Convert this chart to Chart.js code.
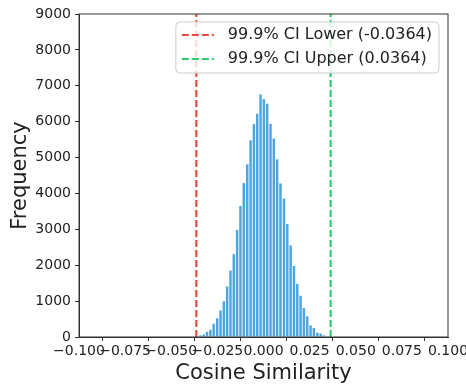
<!DOCTYPE html>
<html>
<head>
<meta charset="utf-8">
<script src="https://cdn.jsdelivr.net/npm/chart.js@4"></script>
<style>
  html, body { margin: 0; padding: 0; background: #fff; }
  #wrap { width: 466px; height: 387px; }
</style>
</head>
<body>
<div id="wrap"><canvas id="hist-chart"></canvas></div>
<script>
// histogram bins (centres) and counts
var binCenters = [-0.0342, -0.0324, -0.0306, -0.0288, -0.0270, -0.0251, -0.0233, -0.0215, -0.0197, -0.0179,
  -0.0161, -0.0143, -0.0125, -0.0107, -0.0088, -0.0070, -0.0052, -0.0034, -0.0016, 0.0002,
  0.0020, 0.0038, 0.0056, 0.0074, 0.0092, 0.0111, 0.0129, 0.0147, 0.0165, 0.0183,
  0.0201, 0.0219, 0.0237, 0.0255, 0.0273, 0.0292, 0.0310, 0.0328];
var binCounts = [46, 75, 145, 202, 370, 520, 740, 995, 1410, 1850,
  2310, 2980, 3650, 4290, 4810, 5480, 5930, 6220, 6760, 6630,
  6500, 5940, 5530, 4950, 4280, 3860, 3150, 2550, 1980, 1480,
  1150, 805, 575, 324, 250, 120, 95, 46];

var ciLabels = ['99.9% CI Lower (-0.0364)', '99.9% CI Upper (0.0364)'];
var ciValues = [-0.0364, 0.0364];
var ciColors = ['#e74c3c', '#2ecc71'];

var xTicks = [-0.1, -0.075, -0.05, -0.025, 0, 0.025, 0.05, 0.075, 0.1];
var yMax = 9000;

var FONT = "'DejaVu Sans', sans-serif";
var ink = '#222';

function fmtX(v) {
  if (Math.abs(v) < 1e-9) return '0.000';
  return (v < 0 ? '\u2212' : '') + Math.abs(v).toFixed(3);
}

var histData = binCenters.map(function (c, i) {
  return {x: c, y: binCounts[i]};
});

var datasets = [{
  type: 'bar',
  label: 'hist',
  data: histData,
  backgroundColor: 'rgba(52,152,219,0.88)',
  borderWidth: 0,
  barPercentage: 0.74,
  categoryPercentage: 1.0,
  order: 2
}];
ciValues.forEach(function (v, i) {
  datasets.push({
    type: 'line',
    label: ciLabels[i],
    data: [{x: v, y: 0}, {x: v, y: yMax}],
    borderColor: ciColors[i],
    borderWidth: 2.2,
    borderDash: [7, 3],
    borderCapStyle: 'butt',
    pointRadius: 0,
    fill: false,
    order: 1
  });
});

// full box around the plot + legend drawn inside the axes (upper right)
var framePlugin = {
  id: 'frame',
  afterDraw: function (chart) {
    var ctx = chart.ctx, a = chart.chartArea;
    ctx.save();
    ctx.strokeStyle = '#333';
    ctx.lineWidth = 1;
    ctx.strokeRect(a.left, a.top, a.right - a.left, a.bottom - a.top);

    ctx.font = '16px ' + FONT;
    var tw = 0;
    ciLabels.forEach(function (t) { tw = Math.max(tw, ctx.measureText(t).width); });
    var boxW = 6 + 32 + 14 + tw + 7;
    var boxH = 51;
    var bx = a.right - 9 - boxW, by = a.top + 8;
    ctx.beginPath();
    ctx.roundRect(bx, by, boxW, boxH, 4);
    ctx.fillStyle = 'rgba(255,255,255,0.8)';
    ctx.fill();
    ctx.strokeStyle = '#cccccc';
    ctx.stroke();
    ciLabels.forEach(function (t, i) {
      var ry = by + 13 + i * 24;
      ctx.beginPath();
      ctx.setLineDash([7, 3]);
      ctx.strokeStyle = ciColors[i];
      ctx.lineWidth = 2.2;
      ctx.moveTo(bx + 6, ry);
      ctx.lineTo(bx + 38, ry);
      ctx.stroke();
      ctx.setLineDash([]);
      ctx.fillStyle = ink;
      ctx.textBaseline = 'middle';
      ctx.fillText(t, bx + 52, ry);
    });
    ctx.restore();
  }
};

new Chart(document.getElementById('hist-chart'), {
  data: {datasets: datasets},
  options: {
    responsive: true,
    maintainAspectRatio: false,
    animation: false,
    layout: {padding: {left: 0, right: 18, top: 14, bottom: 0}},
    plugins: {
      legend: {display: false},
      tooltip: {enabled: false}
    },
    scales: {
      x: {
        type: 'linear',
        min: -0.1,
        max: 0.1,
        offset: false,
        afterFit: function (s) {
          s.height = 50;
          s.paddingLeft = 0;
          s.paddingRight = 0;
        },
        afterBuildTicks: function (s) {
          s.ticks = xTicks.map(function (v) { return {value: v}; });
        },
        ticks: {
          autoSkip: false,
          maxRotation: 0,
          minRotation: 0,
          padding: 2,
          color: ink,
          font: {family: FONT, size: 14},
          callback: function (v) { return fmtX(v); }
        },
        grid: {drawOnChartArea: false, tickLength: 4, color: '#333'},
        border: {color: '#333', width: 1},
        title: {
          display: true,
          text: 'Cosine Similarity',
          color: ink,
          font: {family: FONT, size: 21},
          padding: {top: 0, bottom: 1}
        }
      },
      y: {
        min: 0,
        max: yMax,
        afterFit: function (s) {
          s.width = 79;
          s.paddingTop = 0;
          s.paddingBottom = 0;
        },
        ticks: {
          stepSize: 1000,
          padding: 4,
          color: ink,
          font: {family: FONT, size: 14},
          callback: function (v) { return String(v); }
        },
        grid: {drawOnChartArea: false, tickLength: 4, color: '#333'},
        border: {color: '#333', width: 1},
        title: {
          display: true,
          text: 'Frequency',
          color: ink,
          font: {family: FONT, size: 21},
          padding: {top: 8, bottom: 0}
        }
      }
    }
  },
  plugins: [framePlugin]
});
</script>
</body>
</html>
